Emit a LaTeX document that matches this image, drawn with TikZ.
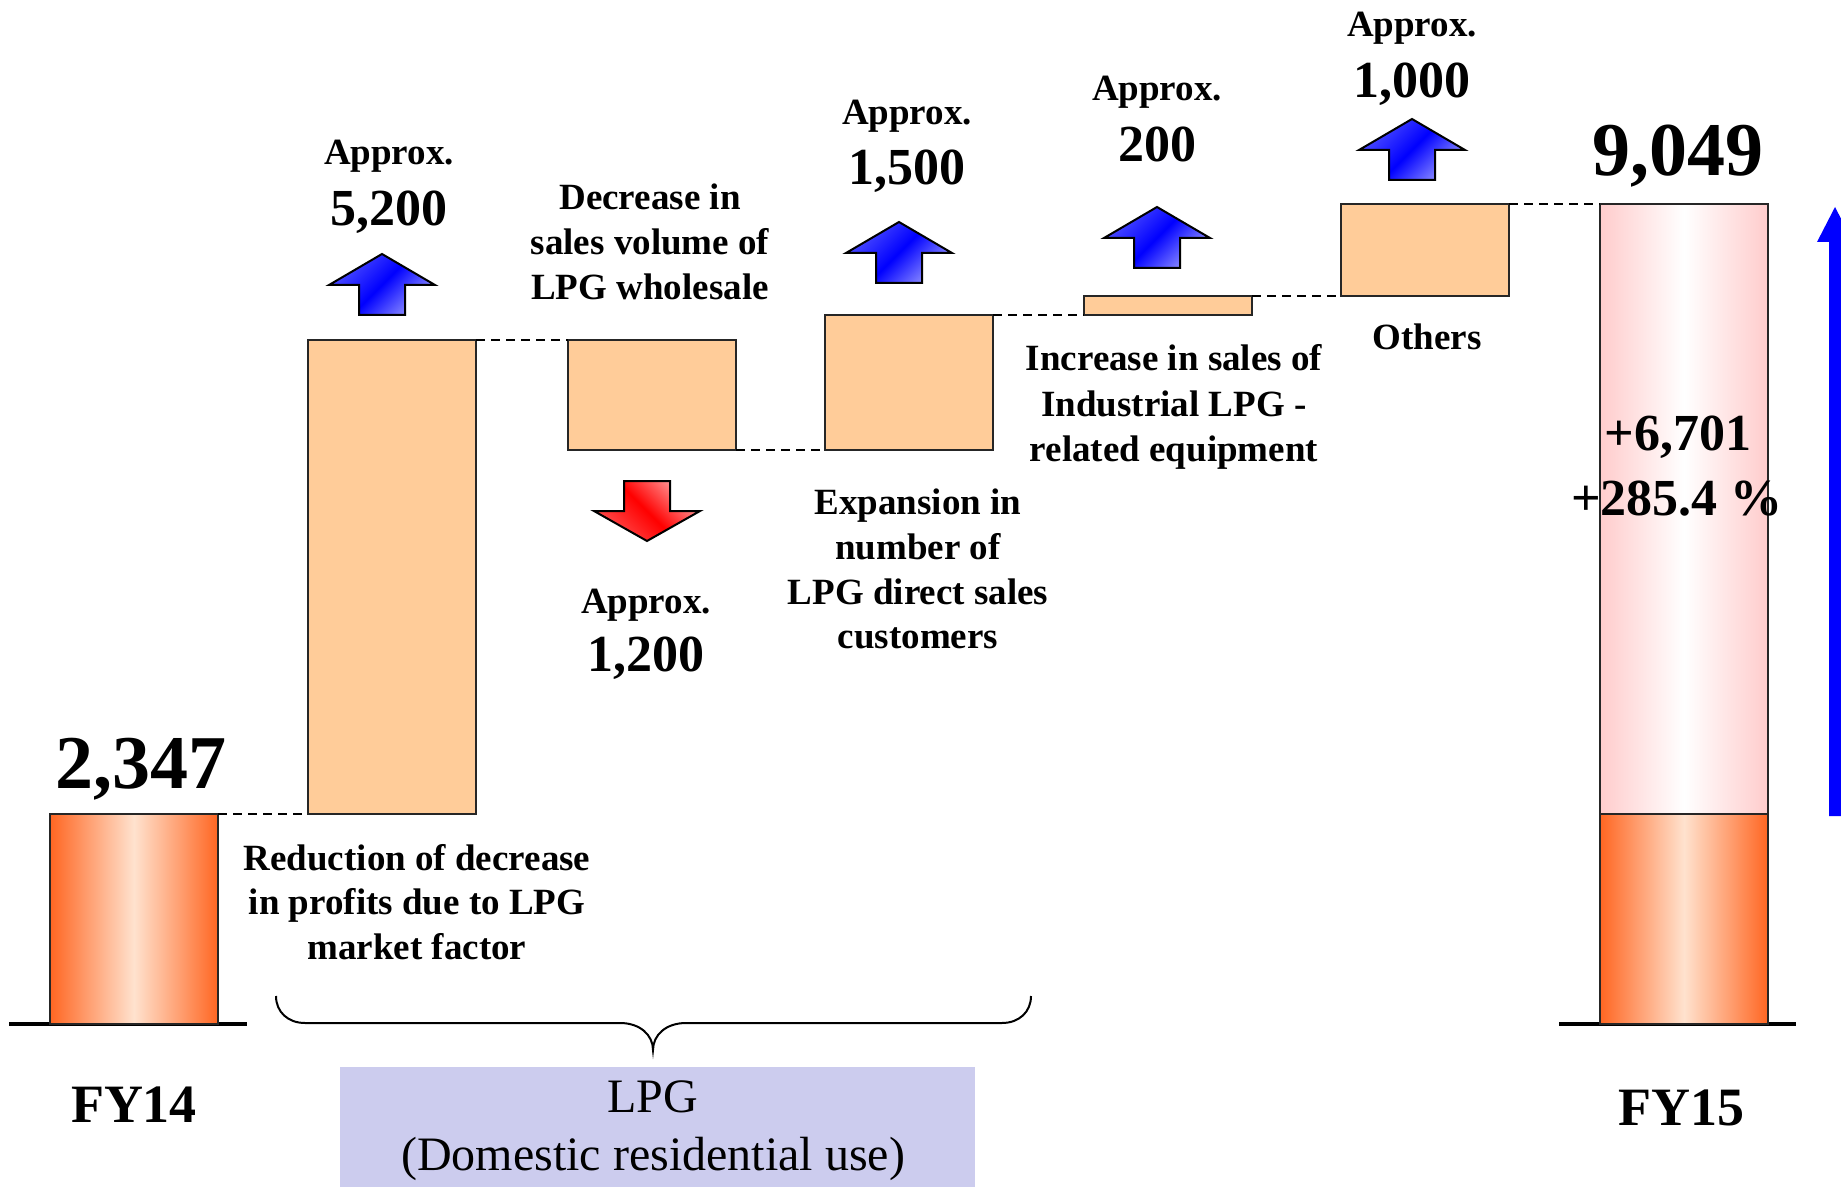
\documentclass[tikz,border=0pt]{standalone}
\usepackage{fontspec}
\setmainfont{Liberation Serif}
\usetikzlibrary{calc}

% text sizes (1 px of the layout grid = 0.5 pt)
\newcommand\txtdesc{\bfseries\fontsize{18.5}{22}\selectfont}
\newcommand\txtnum{\bfseries\fontsize{26}{30}\selectfont}
\newcommand\txtbig{\bfseries\fontsize{38}{44}\selectfont}
\newcommand\txtfy{\bfseries\fontsize{27}{32}\selectfont}
\newcommand\txtseg{\fontsize{24}{28}\selectfont}

\definecolor{peach}{RGB}{255,204,153}
\definecolor{barorange}{RGB}{255,102,34}
\definecolor{barpale}{RGB}{255,226,206}
\definecolor{barpink}{RGB}{255,204,204}
\definecolor{segbg}{RGB}{204,204,238}
\definecolor{upblue}{RGB}{0,0,255}
\definecolor{upbluemid}{RGB}{80,80,255}
\definecolor{upbluelt}{RGB}{150,150,255}
\definecolor{downred}{RGB}{255,0,0}
\definecolor{downredmid}{RGB}{255,80,80}
\definecolor{downredlt}{RGB}{255,160,160}

\tikzset{
  bar/.style={draw=black!85, line width=0.9pt, inner sep=0pt, outer sep=0pt,
    anchor=north west, minimum width=84pt},
  stepbar/.style={bar, fill=peach},
  endbar/.style={bar, left color=barorange, right color=barorange, middle color=barpale},
  growbar/.style={bar, left color=barpink, right color=barpink, middle color=white},
  link/.style={dashed, dash pattern=on 4.5pt off 3pt, line width=0.9pt, black},
  lbl/.style={anchor=base, inner sep=0pt, outer sep=0pt},
  ground/.style={line width=1.8pt, black},
  uparrow/.pic={
    \draw[line width=1pt, black, shade, top color=upbluemid, bottom color=upbluelt,
      middle color=upblue, shading angle=45]
      (0,0) -- (53,31) -- (23,31) -- (23,61) -- (-23,61) -- (-23,31) -- (-53,31) -- cycle;
  },
  downarrow/.pic={
    \draw[line width=1pt, black, shade, top color=downredlt, bottom color=downredmid,
      middle color=downred, shading angle=-45]
      (0,0) -- (53,-30) -- (23,-30) -- (23,-60) -- (-23,-60) -- (-23,-30) -- (-53,-30) -- cycle;
  }
}

\begin{document}
\begin{tikzpicture}[x=0.5pt, y=-0.5pt]
\path[use as bounding box] (0,0) rectangle (1841,1187);

% segment band
\fill[segbg] (340,1067) rectangle (975,1187);

% ground lines
\draw[ground] (9,1024) -- (247,1024);
\draw[ground] (1559,1024) -- (1796,1024);

% bars of the bridge
\node[endbar, minimum height=105pt] (fy14) at (50,814) {};
\node[stepbar, minimum height=237pt] (s1) at (308,340) {};
\node[stepbar, minimum height=55pt] (s2) at (568,340) {};
\node[stepbar, minimum height=67.5pt] (s3) at (825,315) {};
\node[stepbar, minimum height=9.5pt] (s4) at (1084,296) {};
\node[stepbar, minimum height=46pt] (s5) at (1341,204) {};
\node[growbar, minimum height=305pt] (fy15top) at (1600,204) {};
\node[endbar, minimum height=105pt] (fy15base) at (1600,814) {};

% dashed links between consecutive levels
\draw[link] (fy14.north east) -- (s1.south west);
\draw[link] (s1.north east) -- (s2.north west);
\draw[link] (s2.south east) -- (s3.south west);
\draw[link] (s3.north east) -- (s4.south west);
\draw[link] (s4.north east) -- (s5.south west);
\draw[link] (s5.north east) -- (fy15top.north west);

% direction arrows
\pic at (382,254) {uparrow};
\pic at (647,541) {downarrow};
\pic at (899,222) {uparrow};
\pic at (1157,207) {uparrow};
\pic at (1412,119) {uparrow};

% total growth arrow at the right edge
\begin{scope}
\clip (0,0) rectangle (1841,1187);
\fill[upblue] (1829,816) -- (1829,242) -- (1817,242) -- (1835,207) -- (1853,242)
  -- (1841,242) -- (1841,816) -- cycle;
\end{scope}

% brace under the LPG items
\draw[line width=1pt] (276,996) .. controls (276,1012) and (288,1023) .. (305,1023)
  -- (620,1023) .. controls (640,1023) and (653,1035) .. (653,1050)
  .. controls (653,1035) and (666,1023) .. (686,1023)
  -- (1002,1023) .. controls (1019,1023) and (1031,1012) .. (1031,996);

% values
\node[lbl] (ap1) at (389,165) {\txtdesc Approx.};
\node[lbl] (n1) at (389,226) {\txtnum 5,200};
\node[lbl] (ap2) at (646,613) {\txtdesc Approx.};
\node[lbl] (n2) at (646,671) {\txtnum 1,200};
\node[lbl] (ap3) at (907,125) {\txtdesc Approx.};
\node[lbl] (n3) at (907,185) {\txtnum 1,500};
\node[lbl] (ap4) at (1157,101) {\txtdesc Approx.};
\node[lbl] (n4) at (1157,162) {\txtnum 200};
\node[lbl] (ap5) at (1412,37) {\txtdesc Approx.};
\node[lbl] (n5) at (1412,98) {\txtnum 1,000};

\node[lbl] (v14) at (141,788) {\txtbig 2,347};
\node[lbl] (v15) at (1678,176) {\txtbig 9,049};
\node[lbl] (g1) at (1678,451) {\txtnum +6,701};
\node[lbl] (g2) at (1677,515) {\txtnum +285.4 \%};

% item descriptions
\node[lbl] (dA1) at (650,210) {\txtdesc Decrease in};
\node[lbl] (dA2) at (650,255) {\txtdesc sales volume of};
\node[lbl] (dA3) at (650,300) {\txtdesc LPG wholesale};

\node[lbl] (dB1) at (417,870) {\txtdesc Reduction of decrease};
\node[lbl] (dB2) at (417,914) {\txtdesc in profits due to LPG};
\node[lbl] (dB3) at (417,959) {\txtdesc market factor};

\node[lbl] (dC1) at (918,514) {\txtdesc Expansion in};
\node[lbl] (dC2) at (918,559) {\txtdesc number of};
\node[lbl] (dC3) at (918,604) {\txtdesc LPG direct sales};
\node[lbl] (dC4) at (918,648) {\txtdesc customers};

\node[lbl] (dD1) at (1174,371) {\txtdesc Increase in sales of};
\node[lbl] (dD2) at (1174,416) {\txtdesc Industrial LPG -};
\node[lbl] (dD3) at (1174,461) {\txtdesc related equipment};

\node[lbl] (dE1) at (1427,350) {\txtdesc Others};

% period labels
\node[lbl] (p14) at (134,1122) {\txtfy FY14};
\node[lbl] (p15) at (1681,1125) {\txtfy FY15};

% segment label
\node[lbl] (seg1) at (653,1112) {\txtseg LPG};
\node[lbl] (seg2) at (653,1170) {\txtseg (Domestic residential use)};
\end{tikzpicture}
\end{document}
